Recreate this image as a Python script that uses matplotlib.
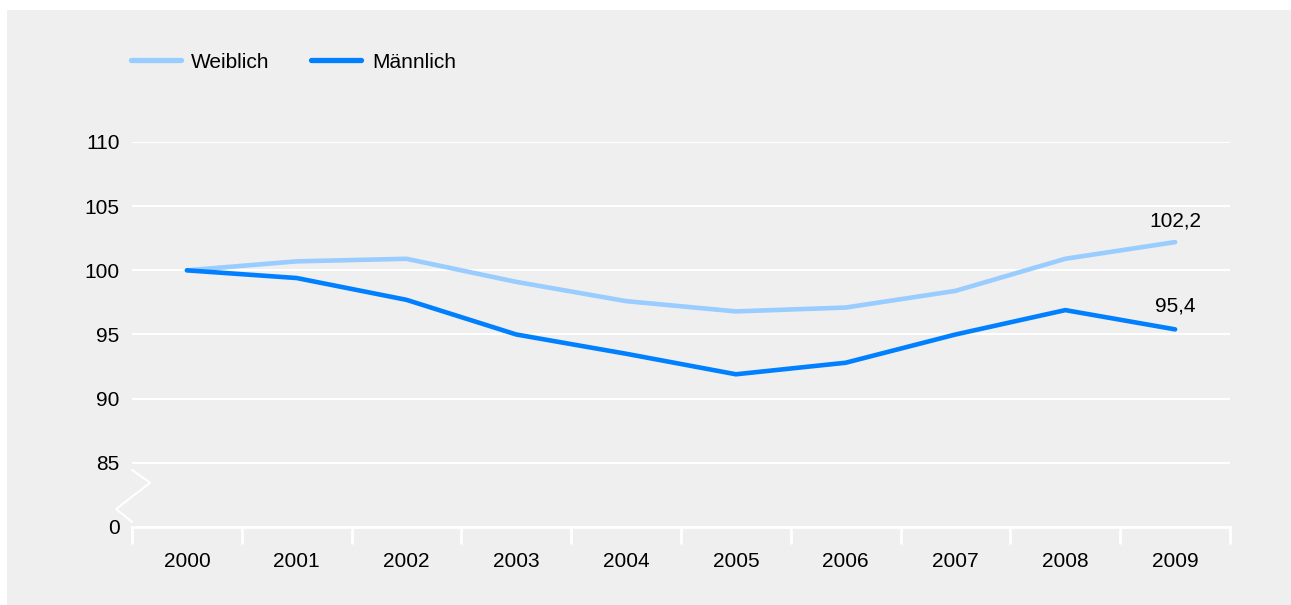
import numpy as np
import matplotlib
matplotlib.use("Agg")
import matplotlib.pyplot as plt
from matplotlib.patches import Rectangle
from matplotlib.lines import Line2D

years = ["2000", "2001", "2002", "2003", "2004", "2005", "2006", "2007", "2008", "2009"]
weiblich = [100.0, 100.7, 100.9, 99.1, 97.6, 96.8, 97.1, 98.4, 100.9, 102.2]
maennlich = [100.0, 99.4, 97.7, 95.0, 93.5, 91.9, 92.8, 95.0, 96.9, 95.4]
y_ticks = [80, 85, 90, 95, 100, 105, 110]
y_labels = ["0", "85", "90", "95", "100", "105", "110"]

c_w = "#99ccff"
c_m = "#0080ff"
bg = "#efefef"

plt.rcParams["font.family"] = ["Liberation Sans", "DejaVu Sans"]
plt.rcParams["font.size"] = 15

W, H = 1291, 605
fig = plt.figure(figsize=(W / 100, H / 100), dpi=100)
fig.patch.set_facecolor("white")
fig.add_artist(Rectangle((7 / W, -0.01), 1, 1.01 - 10 / H, transform=fig.transFigure,
                         facecolor=bg, edgecolor="none", zorder=-10))

ax = fig.add_axes([132 / W, 1 - 527 / H, (1230 - 132) / W, (527 - 142) / H])
ax.patch.set_alpha(0)

x = np.arange(len(years))
ax.plot(x, weiblich, color=c_w, lw=3.3, solid_capstyle="round", solid_joinstyle="round", zorder=3)
ax.plot(x, maennlich, color=c_m, lw=3.3, solid_capstyle="round", solid_joinstyle="round", zorder=3)

ax.set_xlim(-0.5, len(years) - 0.5)
ax.set_ylim(80, 110)

for s in ["top", "right", "left"]:
    ax.spines[s].set_visible(False)
ax.spines["bottom"].set_color("white")
ax.spines["bottom"].set_linewidth(2)

ax.set_yticks(y_ticks)
ax.set_yticklabels(y_labels)
ax.tick_params(axis="y", length=0, pad=9)
ax.set_xticks(x)
ax.set_xticklabels(years)
ax.tick_params(axis="x", which="major", length=0, pad=18)
ax.set_xticks(np.arange(-0.5, len(years)), minor=True)
ax.tick_params(axis="x", which="minor", length=12, width=2, color="white")

for v in y_ticks[1:]:
    ax.axhline(v, color="white", lw=1.5, zorder=1)

# axis break mark
bx = [0.0, 0.0165, -0.0145, 0.0]
by = [(v - 80) / 30 for v in [84.45, 83.45, 81.4, 80.4]]
ax.plot(bx, by, color="white", lw=1.5, transform=ax.transAxes, clip_on=False, zorder=2)

ax.annotate("102,2", (x[-1], weiblich[-1]), xytext=(0, 8), textcoords="offset points",
            ha="center", va="bottom")
ax.annotate("95,4", (x[-1], maennlich[-1]), xytext=(0, 10), textcoords="offset points",
            ha="center", va="bottom")

handles = [Line2D([], [], color=c_w, lw=3.8, solid_capstyle="round"),
           Line2D([], [], color=c_m, lw=3.8, solid_capstyle="round")]
fig.legend(handles, ["Weiblich", "Männlich"], loc="center left",
           bbox_to_anchor=(112 / W, 1 - 62 / H), ncol=2, frameon=False,
           handlelength=2.4, handletextpad=0.5, columnspacing=2.0)

fig.savefig("out.png", dpi=100, facecolor=fig.get_facecolor())
